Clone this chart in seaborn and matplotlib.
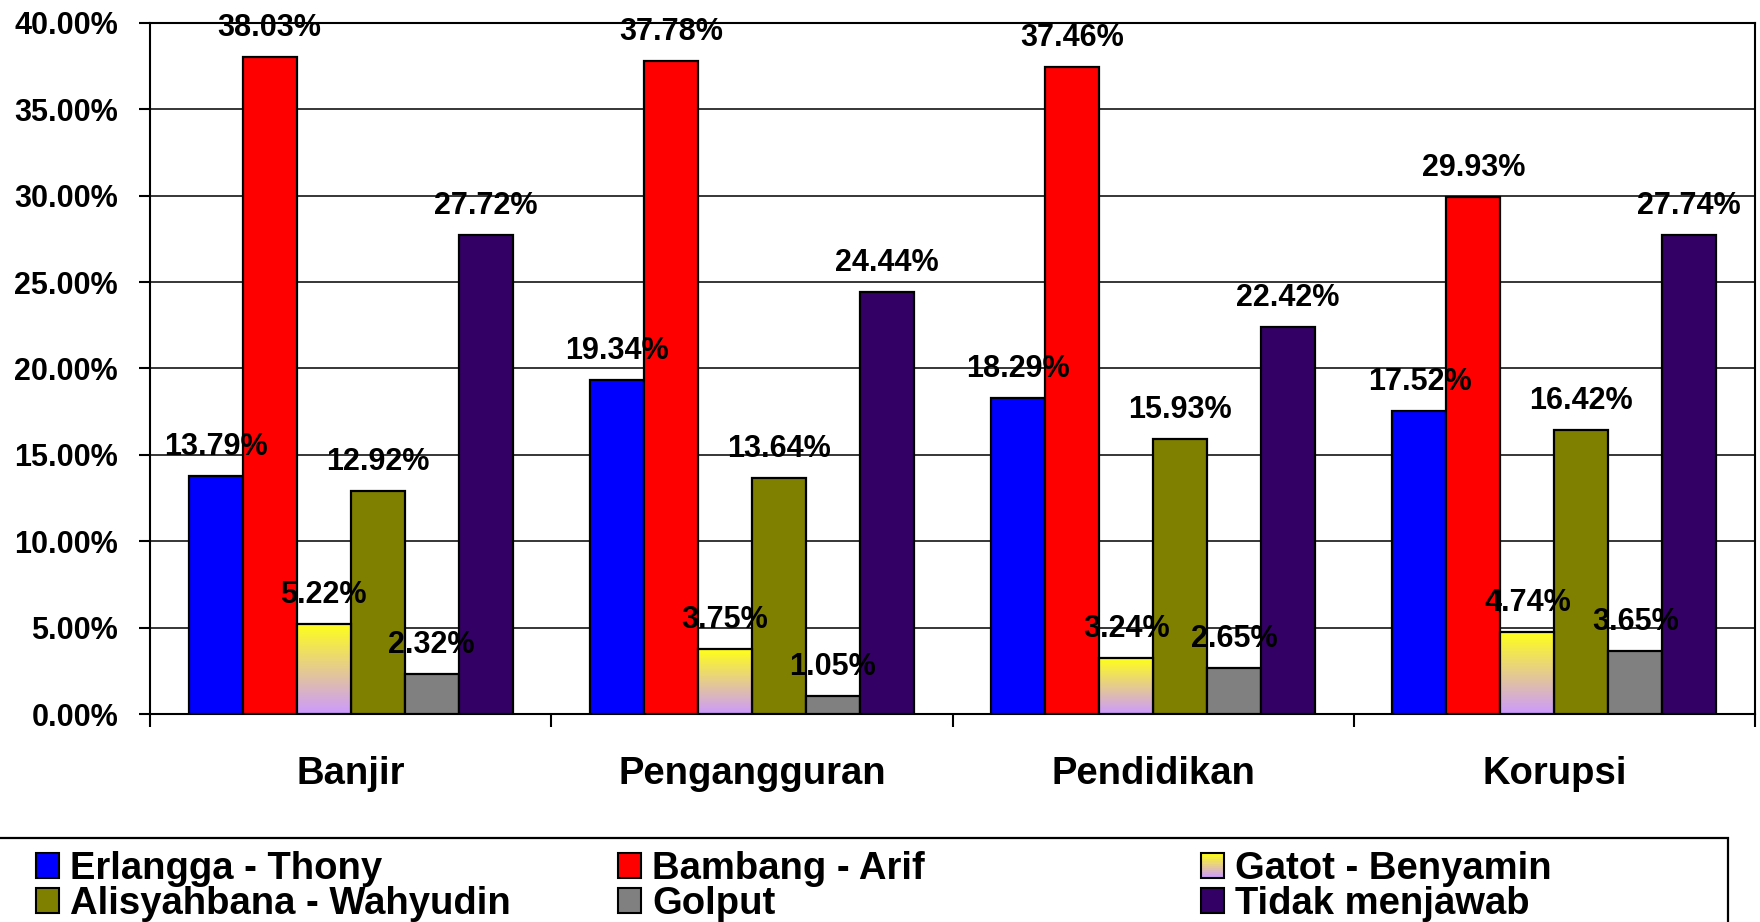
import numpy as np
import pandas as pd
import matplotlib
matplotlib.use("Agg")
import matplotlib.pyplot as plt
import seaborn as sns
from matplotlib.patches import Rectangle, Patch
from matplotlib.colors import LinearSegmentedColormap
from matplotlib.legend_handler import HandlerPatch

categories = ["Banjir", "Pengangguran", "Pendidikan", "Korupsi"]
series_names = ["Erlangga - Thony", "Bambang - Arif", "Gatot - Benyamin",
                "Alisyahbana - Wahyudin", "Golput", "Tidak menjawab"]
erlangga = [13.79, 19.34, 18.29, 17.52]
bambang = [38.03, 37.78, 37.46, 29.93]
gatot = [5.22, 3.75, 3.24, 4.74]
alisyahbana = [12.92, 13.64, 15.93, 16.42]
golput = [2.32, 1.05, 2.65, 3.65]
tidak = [27.72, 24.44, 22.42, 27.74]
y_ticks = [0, 5, 10, 15, 20, 25, 30, 35, 40]

colors = ["#0000FF", "#FF0000", "#FFFF00", "#808000", "#808080", "#330066"]
grad_top, grad_bottom = "#FFFF1A", "#CC99FF"

series_values = [erlangga, bambang, gatot, alisyahbana, golput, tidak]
rows = []
for name, vals in zip(series_names, series_values):
    for c, v in zip(categories, vals):
        rows.append({"cat": c, "series": name, "value": v})
df = pd.DataFrame(rows)

sns.set_theme(style="white")
plt.rcParams["font.family"] = ["Liberation Sans", "DejaVu Sans"]
plt.rcParams["font.weight"] = "bold"
plt.rcParams["text.color"] = "black"
plt.rcParams["xtick.color"] = "black"
plt.rcParams["ytick.color"] = "black"
plt.rcParams["axes.labelcolor"] = "black"

fig = plt.figure(figsize=(17.6, 9.22), dpi=100)
ax = fig.add_axes([150 / 1760, 1 - 714 / 922, (1755 - 150) / 1760, (714 - 23) / 922])

sns.barplot(data=df, x="cat", y="value", hue="series", order=categories,
            hue_order=series_names, palette=colors, saturation=1, width=0.807, gap=0,
            edgecolor="black", linewidth=1.6, ax=ax, legend=False, zorder=3)

ax.set_xlim(-0.5, 3.5)
ax.set_ylim(0, 40)
ax.set_yticks(y_ticks)
ax.set_yticklabels([f"{t:.2f}%" for t in y_ticks], fontsize=22, fontweight="bold")
ax.yaxis.grid(True, color="black", linewidth=1.1, zorder=0)
ax.set_axisbelow(True)
ax.set_xlabel("")
ax.set_ylabel("")
ax.set_xticks(range(len(categories)))
ax.set_xticklabels(categories, fontsize=27.5, fontweight="bold")
ax.set_xticks([-0.5, 0.5, 1.5, 2.5, 3.5], minor=True)
ax.tick_params(axis="x", which="major", length=0, pad=30)
ax.tick_params(axis="x", which="minor", length=9.5, width=1.5, color="black", direction="out", bottom=True)
ax.tick_params(axis="y", which="major", length=8, width=1.5, color="black", direction="out", pad=15, left=True)
for s in ax.spines.values():
    s.set_visible(True)
    s.set_color("black")
    s.set_linewidth(1.5)

# gradient for Gatot bars and data labels
cmap = LinearSegmentedColormap.from_list("g", [grad_bottom, grad_top])
grad = np.linspace(0, 1, 256).reshape(-1, 1)
for container, name in zip(ax.containers, series_names):
    for bar in container:
        if name == "Gatot - Benyamin":
            x0 = bar.get_x(); w = bar.get_width(); h = bar.get_height()
            im = ax.imshow(grad, cmap=cmap, origin="lower", aspect="auto",
                           extent=[x0, x0 + w, 0, h], zorder=3.5, interpolation="bilinear")
            im.set_clip_path(bar)
            bar.set_facecolor("none")
            bar.set_zorder(4)
    ax.bar_label(container, labels=[f"{b.get_height():.2f}%" for b in container],
                 padding=10, fontsize=22, fontweight="bold", color="black", zorder=6)
ax.set_xlim(-0.5, 3.5)
ax.set_ylim(0, 40)


class GradientHandler(HandlerPatch):
    def create_artists(self, legend, orig_handle, xdescent, ydescent, width, height, fontsize, trans):
        arts = []
        n = 12
        for k in range(n):
            c = cmap(1 - (k + 0.5) / n)
            r = Rectangle((-xdescent, -ydescent + height * (n - 1 - k) / n), width, height / n,
                          facecolor=c, edgecolor="none", transform=trans)
            arts.append(r)
        border = Rectangle((-xdescent, -ydescent), width, height, facecolor="none",
                           edgecolor="black", linewidth=1.5, transform=trans)
        arts.append(border)
        return arts


# legend box
fig.patches.append(Rectangle((-0.01, -0.1), 1728 / 1760 + 0.01, 0.1 + (1 - 838 / 922),
                             transform=fig.transFigure, fill=False, edgecolor="black",
                             linewidth=1.6))
col_x = [36 / 1760, 618 / 1760, 1201 / 1760]
col_pairs = [(0, 3), (1, 4), (2, 5)]
for cx, pair in zip(col_x, col_pairs):
    handles = []
    hmap = {}
    for i in pair:
        p = Patch(facecolor=colors[i], edgecolor="black", linewidth=1.5)
        if i == 2:
            hmap[p] = GradientHandler()
        handles.append(p)
    fig.legend(handles, [series_names[i] for i in pair], loc="upper left",
               bbox_to_anchor=(cx, 1 - 851 / 922), frameon=False,
               prop={"size": 27.5, "weight": "bold"}, handlelength=0.6, handleheight=0.6,
               handletextpad=0.3, labelspacing=-0.03, borderpad=0, borderaxespad=0,
               handler_map=hmap)

fig.savefig("out.png", dpi=100)
